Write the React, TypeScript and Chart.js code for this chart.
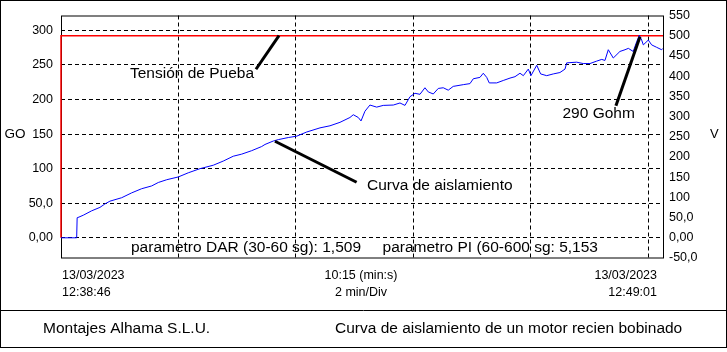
import { useEffect, useRef } from 'react';
import { Chart, registerables } from 'chart.js';

Chart.register(...registerables);

// Insulation resistance curve (time in seconds from 12:38:46, resistance in GOhm)
const timeSec = [0, 16, 16.5, 18.4, 22.8, 31.3, 39.8, 44.9, 50, 62, 72.2, 82.4, 92.6, 99.4, 108, 119.8, 130, 142, 155.6, 165.8, 176, 184.6, 194.8, 205, 208.4, 216.9, 222, 232.2, 240.8, 251, 264.6, 274.8, 285, 295.2, 298.6, 303.7, 306.5, 310.5, 315.6, 322.5, 329.2, 339.5, 346.3, 351.4, 356.5, 361.6, 366.7, 371.8, 375.2, 380.3, 385.4, 390.5, 395.6, 400.7, 411, 417.8, 421.2, 428, 431.4, 434.9, 437.5, 445.1, 451.8, 458.7, 463.8, 468.9, 472.3, 477.4, 480.1, 486, 490, 496.2, 502.9, 509.7, 514.9, 516.6, 526.8, 533.5, 540.4, 547.2, 552.4, 555.7, 559.1, 564.2, 571, 576.2, 579.6, 584.6, 588.1, 590.8, 593.2, 594.9, 600, 603.4, 608.5, 613.6, 615];
const resistanceGO = [0, 0, 29, 30, 32.7, 39, 44, 49, 53, 58, 65, 71, 75, 80, 84, 88, 94, 100, 105, 111, 118, 121, 126, 132, 135, 140, 142, 145, 147, 153, 159, 162, 167, 174, 178, 174, 169, 183, 192, 189, 191.5, 192, 195, 191.5, 204, 209, 207.5, 217, 211, 208, 216, 217, 213.5, 219, 221.5, 223, 230, 232, 238, 232, 224, 224, 227.5, 231, 233, 238, 234.5, 244, 234.5, 249.5, 237, 234.5, 237, 239, 244, 253, 254, 252, 252, 255.5, 258, 256.5, 272, 260, 269.5, 272, 274, 269.5, 283.5, 293, 286, 279, 286, 279, 275.5, 272, 274];

// Test voltage (V)
const voltTimeSec = [0, 0, 615];
const voltageV = [0, 500, 500];

// Axes
const xRange = [0, 615];
const xGridSec = [120, 240, 360, 480, 600];
const goRange = [-29.2, 321.5];
const goTicks = [0, 50, 100, 150, 200, 250, 300];
const vRange = [-50, 550];
const vTicks = [-50, 0, 50, 100, 150, 200, 250, 300, 350, 400, 450, 500, 550];

// Annotation pointers (data coordinates)
const pointerAxis = ['yV', 'yGO', 'yGO'];
const pointerT1 = [199.2, 218.6, 591.5];
const pointerY1 = [417, 139.6, 290.6];
const pointerT2 = [222.7, 302, 566.9];
const pointerY2 = [500, 80.3, 191];

const fmt = (v: number) => {
  if (v === 0) return '0,00';
  if (Math.abs(v) < 100) return v.toFixed(1).replace('.', ',');
  return String(v);
};

const FONT = '"Liberation Sans", Arial, sans-serif';

export default function App() {
  const ref = useRef<HTMLCanvasElement>(null);

  useEffect(() => {
    const canvas = ref.current!;
    const decor = {
      id: 'decor',
      beforeDatasetsDraw(chart: any) {
        const ctx = chart.ctx;
        const a = chart.chartArea;
        ctx.save();
        ctx.strokeStyle = '#000';
        ctx.lineWidth = 1;
        ctx.setLineDash([]);
        ctx.strokeRect(a.left + 0.5, a.top + 0.5, a.right - a.left, a.bottom - a.top - 0.5);
        ctx.restore();
      },
      afterDatasetsDraw(chart: any) {
        const ctx = chart.ctx;
        const xs = chart.scales.x;
        ctx.save();
        ctx.strokeStyle = '#000';
        ctx.lineWidth = 3;
        ctx.lineCap = 'butt';
        for (let i = 0; i < pointerT1.length; i++) {
          const ys = chart.scales[pointerAxis[i]];
          ctx.beginPath();
          ctx.moveTo(xs.getPixelForValue(pointerT1[i]), ys.getPixelForValue(pointerY1[i]));
          ctx.lineTo(xs.getPixelForValue(pointerT2[i]), ys.getPixelForValue(pointerY2[i]));
          ctx.stroke();
        }
        ctx.restore();
      },
      afterDraw(chart: any) {
        const ctx = chart.ctx;
        ctx.save();
        ctx.strokeStyle = '#000';
        ctx.lineWidth = 1;
        ctx.setLineDash([]);
        ctx.strokeRect(0.5, 0.5, 726, 347);
        ctx.beginPath();
        ctx.moveTo(0, 310.5);
        ctx.lineTo(727, 310.5);
        ctx.stroke();

        ctx.fillStyle = '#000';
        ctx.textBaseline = 'alphabetic';
        ctx.font = `15.5px ${FONT}`;
        ctx.textAlign = 'left';
        ctx.fillText('Tensión de Pueba', 130, 78);
        ctx.fillText('Curva de aislamiento', 367, 189.5);
        ctx.fillText('290 Gohm', 562.5, 118);
        ctx.fillText('parametro DAR (30-60 sg): 1,509     parametro PI (60-600 sg: 5,153', 131, 252);
        ctx.fillText('Montajes Alhama S.L.U.', 43, 333);
        ctx.fillText('Curva de aislamiento de un motor recien bobinado', 335, 333);

        ctx.font = `12.5px ${FONT}`;
        ctx.fillText('13/03/2023', 62, 279);
        ctx.fillText('12:38:46', 62, 296);
        ctx.textAlign = 'center';
        ctx.fillText('10:15 (min:s)', 361, 279);
        ctx.fillText('2 min/Div', 361, 296);
        ctx.textAlign = 'right';
        ctx.fillText('13/03/2023', 657, 279);
        ctx.fillText('12:49:01', 657, 296);

        ctx.font = `13.5px ${FONT}`;
        ctx.textAlign = 'left';
        ctx.fillText('GO', 4.5, 138);
        ctx.font = `13px ${FONT}`;
        ctx.fillText('V', 710, 137.5);
        ctx.restore();
      },
    };

    const chart = new Chart(canvas, {
      type: 'line',
      data: {
        datasets: [
          {
            data: timeSec.map((t, i) => ({ x: t, y: resistanceGO[i] })),
            yAxisID: 'yGO',
            borderColor: '#0000ff',
            borderWidth: 1,
            pointRadius: 0,
            tension: 0,
          },
          {
            data: voltTimeSec.map((t, i) => ({ x: t, y: voltageV[i] })),
            yAxisID: 'yV',
            borderColor: '#ff0000',
            borderWidth: 1.5,
            pointRadius: 0,
            tension: 0,
            clip: false,
          },
        ],
      },
      options: {
        animation: false,
        responsive: false,
        devicePixelRatio: 1,
        layout: { padding: { top: 8, bottom: 94, left: 0, right: 0 } },
        plugins: { legend: { display: false }, tooltip: { enabled: false } },
        scales: {
          x: {
            type: 'linear',
            min: xRange[0],
            max: xRange[1],
            afterBuildTicks: (s: any) => {
              s.ticks = xGridSec.map((v) => ({ value: v }));
            },
            ticks: { display: false },
            grid: { color: '#000', lineWidth: 1, drawTicks: false },
            border: { display: false, dash: [4, 3] },
          },
          yGO: {
            type: 'linear',
            position: 'left',
            min: goRange[0],
            max: goRange[1],
            afterBuildTicks: (s: any) => {
              s.ticks = goTicks.map((v) => ({ value: v }));
            },
            afterFit: (s: any) => {
              s.width = 61;
            },
            ticks: {
              padding: 8,
              color: '#000',
              font: { family: FONT, size: 12.5 },
              callback: (v: any) => fmt(Number(v)),
            },
            grid: { color: '#000', lineWidth: 1, drawTicks: false },
            border: { display: false, dash: [4, 3] },
          },
          yV: {
            type: 'linear',
            position: 'right',
            min: vRange[0],
            max: vRange[1],
            afterBuildTicks: (s: any) => {
              s.ticks = vTicks.map((v) => ({ value: v }));
            },
            afterFit: (s: any) => {
              s.width = 64;
            },
            ticks: {
              padding: 6,
              color: '#000',
              font: { family: FONT, size: 12.5 },
              callback: (v: any) => fmt(Number(v)),
            },
            grid: { display: false, drawTicks: false },
            border: { display: false },
          },
        },
      },
      plugins: [decor],
    } as any);

    return () => chart.destroy();
  }, []);

  return (
    <div style={{ position: 'fixed', left: 0, top: 0, width: 727, height: 352, background: '#fff' }}>
      <canvas ref={ref} width={727} height={352} style={{ display: 'block', width: 727, height: 352 }} />
    </div>
  );
}
